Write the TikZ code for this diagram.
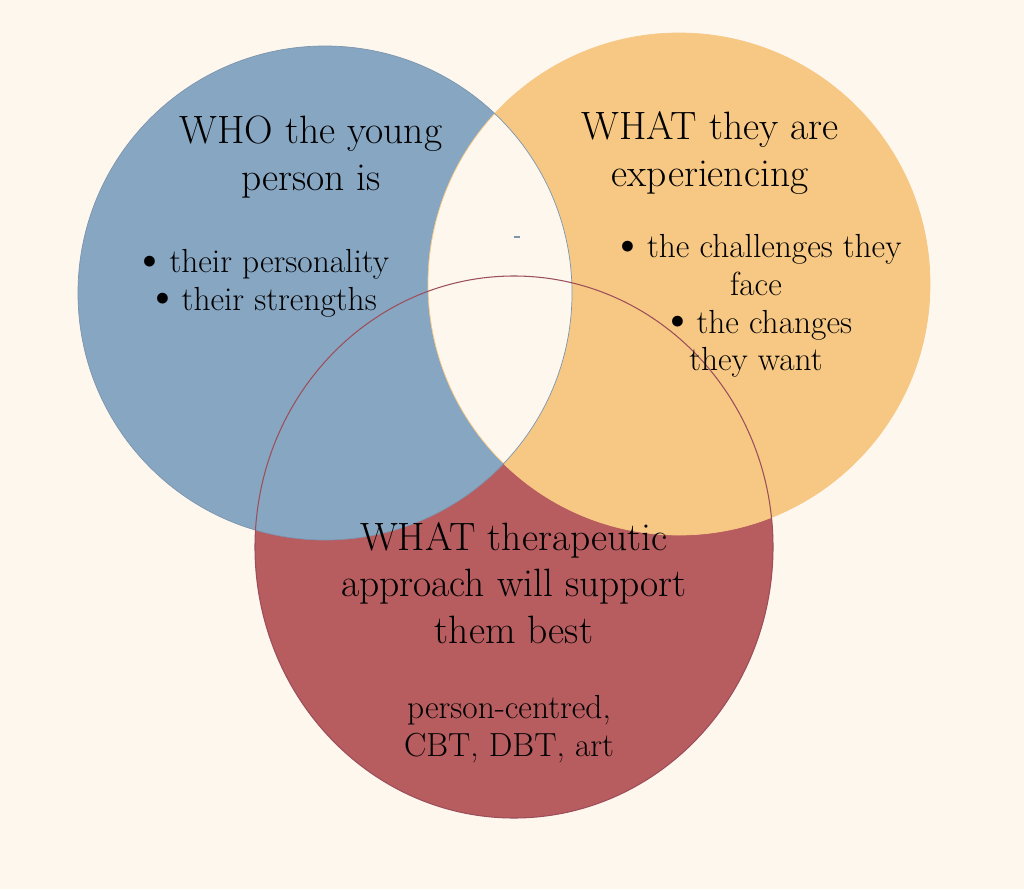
\documentclass[tikz,border=0pt]{standalone}
\usepackage{fontspec}
\usepackage{tikz}

\definecolor{paper}{HTML}{FDF7EE}
\definecolor{whoblue}{HTML}{87A6C2}
\definecolor{whatorange}{HTML}{F7C884}
\definecolor{howred}{HTML}{B75C5F}
\definecolor{redline}{HTML}{9C4F5A}
\definecolor{blueline}{HTML}{7C95AD}
\newcommand{\dotitem}{\smash{\raisebox{-0.12ex}{\scalebox{1.45}{\textbullet}}}\kern0.05em}

\begin{document}
\begin{tikzpicture}[x=0.02cm, y=-0.02cm,
  head/.style={align=center, font=\fontsize{22.5}{26.5}\selectfont},
  item/.style={align=center, font=\fontsize{19}{21.5}\selectfont}]
\fill[paper] (0,0) rectangle (1024,889);
\fill[howred] (514,547) ellipse [x radius=259, y radius=271];
\fill[whoblue] (325,293) circle [radius=247];
\fill[whatorange] (679,284) circle [radius=251];
\begin{scope}
\clip (325,293) circle [radius=247];
\fill[paper] (679,284) circle [radius=251];
\end{scope}
\draw[whatorange, thin] (679,284) circle [radius=251];
\draw[blueline, thin] (325,293) circle [radius=247];
\draw[redline, line width=0.6pt] (514,547) ellipse [x radius=259, y radius=271];
\draw[blueline, line width=0.8pt] (514,237) -- (520,237);
% texts
\node[head] (who) at (311,157) {WHO the young\\person is};
\node[item] (whoitems) at (261,283) {\dotitem their personality\\\dotitem their strengths};
\node[head] (what) at (710,153) {WHAT they are\\experiencing};
\node[item] (whatitems) at (756,306) {\dotitem the challenges they\\face\\\dotitem the changes\\they want};
\node[head] (how) at (514,583) {WHAT therapeutic\\approach will support\\them best};
\node[item] (howitems) at (509,729) {person-centred,\\CBT, DBT, art};
\end{tikzpicture}
\end{document}
